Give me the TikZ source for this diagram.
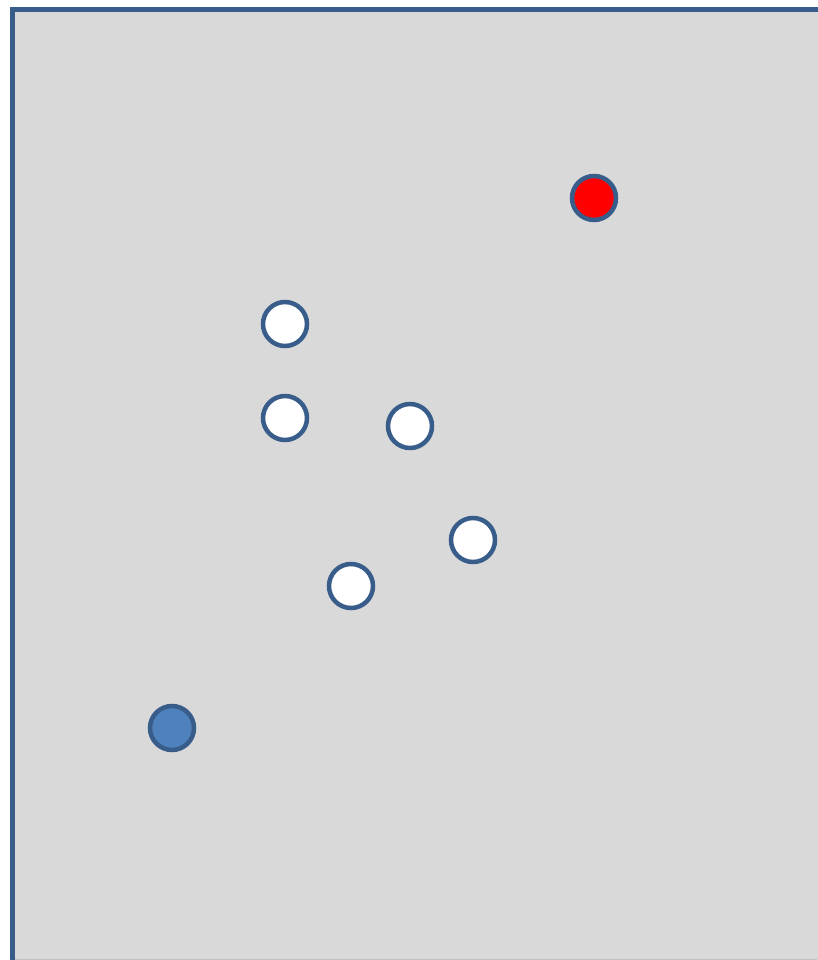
\documentclass[tikz,border=0pt]{standalone}
\definecolor{edge}{HTML}{385D8A}
\definecolor{panel}{HTML}{D9D9D9}
\definecolor{bluefill}{HTML}{4F81BD}
\begin{document}
\begin{tikzpicture}[x=1pt,y=-1pt,
  dot/.style={circle,draw=edge,line width=4.5pt,minimum size=44pt,inner sep=0pt}]
\useasboundingbox (0,0) rectangle (817,960);
\fill[white] (0,0) rectangle (817,960);
\fill[panel] (12.5,9.5) rectangle (830,970);
\draw[edge,line width=5pt] (12.5,975) -- (12.5,9.5) -- (830,9.5);
\draw[black!25,line width=1pt] (15,959.5) -- (817,959.5);
\node[dot,fill=red] (r) at (594,198) {};
\node[dot,fill=white] (w1) at (285,324) {};
\node[dot,fill=white] (w2) at (285,418) {};
\node[dot,fill=white] (w3) at (410,426) {};
\node[dot,fill=white] (w4) at (473,540) {};
\node[dot,fill=white] (w5) at (351,586) {};
\node[dot,fill=bluefill] (b) at (172,728) {};
\end{tikzpicture}
\end{document}
